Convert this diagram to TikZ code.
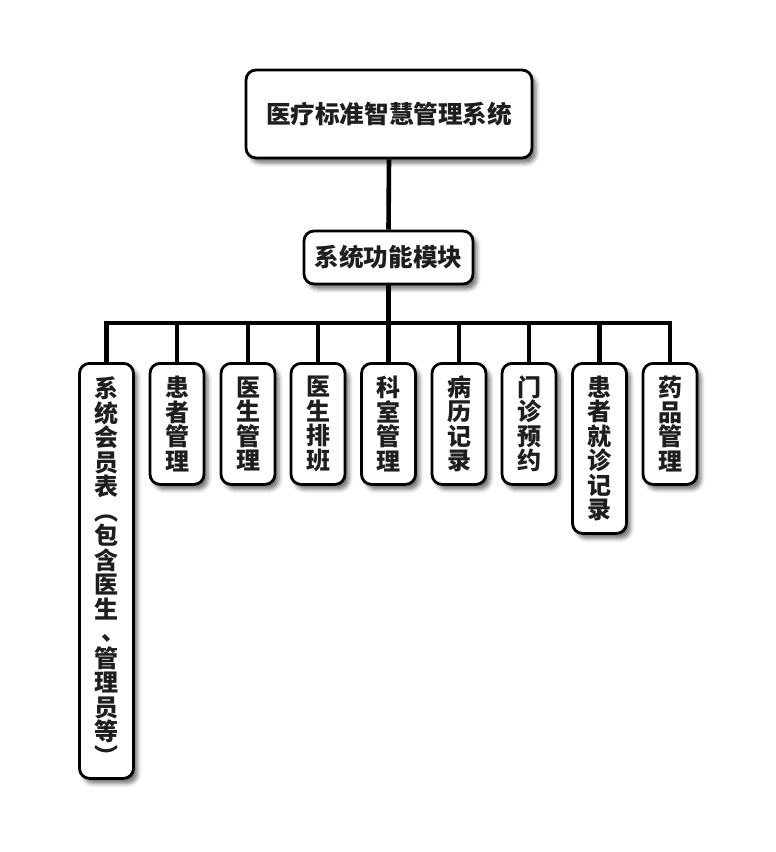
\documentclass[tikz,border=0pt]{standalone}
\usepackage{fontspec}
\newfontfamily\cjk{Noto Sans CJK SC}
\usetikzlibrary{shadows.blur,backgrounds}
\definecolor{txt}{HTML}{1E1E1E}
\newcommand{\vcomma}{\makebox[1em][l]{\hspace{0.3em}\raisebox{0.1em}{、}}}
\tikzset{
  box/.style={draw=black, line width=2.8pt, fill=white, rounded corners=10pt,
    text=txt, align=center, inner sep=0pt,
    blur shadow={shadow xshift=4pt, shadow yshift=-5pt, shadow blur radius=4pt, shadow opacity=55}},
  hbox/.style={box, font=\cjk\bfseries\fontsize{24.6}{28}\selectfont},
  vbox/.style={box, anchor=north, minimum width=54pt, font=\cjk\bfseries\fontsize{24}{24.5}\selectfont},
  conn/.style={line width=4.6pt, draw=black, line join=miter}
}
\begin{document}
\begin{tikzpicture}[x=1pt,y=-1pt]
\useasboundingbox (0,0) rectangle (776,852);
\node[hbox, minimum width=286pt, minimum height=88pt] (root) at (389,114) {医疗标准智慧管理系统};
\node[hbox, minimum width=169pt, minimum height=53pt] (mod) at (388.5,257.5) {系统功能模块};
\coordinate (bus) at (388.5,323);
\node[vbox, minimum height=415pt] (c1) at (106.5,362) {系\\统\\会\\员\\表\\︵\\包\\含\\医\\生\\\vcomma\\管\\理\\员\\等\\︶};
\node[vbox, minimum height=121pt] (c2) at (177,362) {患\\者\\管\\理};
\node[vbox, minimum height=121pt] (c3) at (248,362) {医\\生\\管\\理};
\node[vbox, minimum height=121pt] (c4) at (318,362) {医\\生\\排\\班};
\node[vbox, minimum height=121pt] (c5) at (388.5,362) {科\\室\\管\\理};
\node[vbox, minimum height=121pt] (c6) at (459,362) {病\\历\\记\\录};
\node[vbox, minimum height=121pt] (c7) at (529,362) {门\\诊\\预\\约};
\node[vbox, minimum height=170pt] (c8) at (599.5,362) {患\\者\\就\\诊\\记\\录};
\node[vbox, minimum height=121pt] (c9) at (670,362) {药\\品\\管\\理};
\begin{scope}[on background layer]
\draw[conn] (root.south) -- (mod.north);
\draw[conn] (mod.south) -- (bus);
\draw[conn] (c1.north) -- (c1.north |- bus) -- (c9.north |- bus) -- (c9.north);
\foreach \c in {c2,c3,c4,c5,c6,c7,c8}{
  \draw[conn] (\c.north) -- (\c.north |- bus);
}
\end{scope}
\end{tikzpicture}
\end{document}
